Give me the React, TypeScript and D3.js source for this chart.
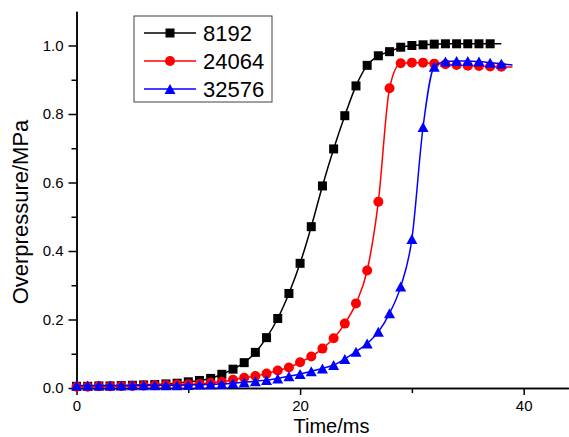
import { useEffect, useRef } from 'react';
import * as d3 from 'd3';

// time axis, one sample per ms
const seriesNames = ['8192', '24064', '32576'];
const seriesColors = ['#000000', '#ff0000', '#0000ff'];

const p8192 = [
  0.005, 0.005, 0.006, 0.006, 0.007, 0.008, 0.009, 0.01, 0.012, 0.014,
  0.018, 0.022, 0.028, 0.04, 0.055, 0.074, 0.104, 0.147, 0.203, 0.276,
  0.364, 0.471, 0.59, 0.698, 0.795, 0.882, 0.942, 0.97, 0.982, 0.995,
  1.0, 1.002, 1.004, 1.005, 1.005, 1.005, 1.005, 1.005, 1.005,
];
const p24064 = [
  0.004, 0.004, 0.005, 0.005, 0.006, 0.006, 0.007, 0.008, 0.009, 0.01,
  0.011, 0.012, 0.015, 0.018, 0.024, 0.03, 0.035, 0.042, 0.051, 0.06,
  0.075, 0.092, 0.115, 0.145, 0.188, 0.247, 0.343, 0.544, 0.875, 0.948,
  0.95, 0.95, 0.947, 0.945, 0.943, 0.941, 0.94, 0.939, 0.938, 0.937,
];
const p32576 = [
  0.007, 0.007, 0.007, 0.007, 0.007, 0.008, 0.008, 0.008, 0.008, 0.008,
  0.009, 0.01, 0.011, 0.012, 0.014, 0.017, 0.02, 0.023, 0.028, 0.034,
  0.041, 0.049, 0.057, 0.067, 0.085, 0.106, 0.13, 0.164, 0.218, 0.296,
  0.435, 0.762, 0.938, 0.953, 0.955, 0.955, 0.953, 0.95, 0.947, 0.943,
];

const xMajor = [0, 20, 40];
const xMinor = [10, 30];
const yMajor = [0, 0.2, 0.4, 0.6, 0.8, 1.0];
const yMinor = [0.1, 0.3, 0.5, 0.7, 0.9];

const FONT = 'Liberation Sans, Arial, sans-serif';

export default function App() {
  const svgRef = useRef<SVGSVGElement>(null);

  useEffect(() => {
    if (!svgRef.current) return;
    const svg = d3.select(svgRef.current);
    svg.selectAll('*').remove();

    const x = d3.scaleLinear().domain([0, 44]).range([76.5, 568.4]);
    const y = d3.scaleLinear().domain([0, 1.1]).range([388, 11.25]);

    // Axes
    const xAxis = svg
      .append('g')
      .attr('transform', 'translate(0,388)')
      .call(
        d3.axisBottom(x).tickValues(xMajor).tickSize(7).tickSizeOuter(0).tickPadding(5).tickFormat(d3.format('d'))
      );
    svg
      .append('g')
      .attr('transform', 'translate(0,388)')
      .call(d3.axisBottom(x).tickValues(xMinor).tickSize(5).tickSizeOuter(0).tickFormat(() => ''));

    const yAxis = svg
      .append('g')
      .attr('transform', 'translate(76.5,0)')
      .call(
        d3.axisLeft(y).tickValues(yMajor).tickSize(8).tickSizeOuter(0).tickPadding(5).tickFormat(d3.format('.1f'))
      );
    svg
      .append('g')
      .attr('transform', 'translate(76.5,0)')
      .call(d3.axisLeft(y).tickValues(yMinor).tickSize(5).tickSizeOuter(0).tickFormat(() => ''));

    svg.selectAll('.domain, .tick line').attr('stroke', '#000').attr('stroke-width', 1.5);
    [xAxis, yAxis].forEach((a) =>
      a.selectAll('text').attr('font-size', '15px').attr('font-family', FONT).attr('fill', '#000')
    );

    // Axis titles
    svg
      .append('text')
      .attr('x', 331.5)
      .attr('y', 433)
      .attr('text-anchor', 'middle')
      .attr('font-family', FONT)
      .attr('font-size', '20px')
      .text('Time/ms');

    svg
      .append('text')
      .attr('transform', 'translate(28,212) rotate(-90)')
      .attr('text-anchor', 'middle')
      .attr('font-family', FONT)
      .attr('font-size', '22px')
      .text('Overpressure/MPa');

    const marker = (g: any, kind: number, color: string, cx: number, cy: number) => {
      if (kind === 0) {
        g.append('rect')
          .attr('x', cx - 4.5)
          .attr('y', cy - 4.5)
          .attr('width', 9)
          .attr('height', 9)
          .attr('fill', color);
      } else if (kind === 1) {
        g.append('circle').attr('cx', cx).attr('cy', cy).attr('r', 5).attr('fill', color);
      } else {
        g.append('path')
          .attr('d', `M${cx},${cy - 5}L${cx + 5.5},${cy + 5}L${cx - 5.5},${cy + 5}Z`)
          .attr('fill', color);
      }
    };

    // Series
    const allSeries = [p8192, p24064, p32576];
    const line = d3
      .line<number>()
      .x((d, i) => x(i))
      .y((d) => y(d))
      .curve(d3.curveMonotoneX);

    allSeries.forEach((vals, k) => {
      const g = svg.append('g');
      g.append('path')
        .attr('d', line(vals))
        .attr('fill', 'none')
        .attr('stroke', seriesColors[k])
        .attr('stroke-width', 1.5);
      // the last sample only carries the line, no symbol
      vals.slice(0, -1).forEach((v, i) => marker(g, k, seriesColors[k], x(i), y(v)));
    });

    // Legend
    const lg = svg.append('g');
    lg.append('rect')
      .attr('x', 134)
      .attr('y', 16)
      .attr('width', 138)
      .attr('height', 86)
      .attr('fill', '#fff')
      .attr('stroke', '#404040')
      .attr('stroke-width', 1);
    seriesNames.forEach((name, k) => {
      const cy = 33 + k * 28;
      lg.append('line')
        .attr('x1', 144)
        .attr('x2', 196)
        .attr('y1', cy)
        .attr('y2', cy)
        .attr('stroke', seriesColors[k])
        .attr('stroke-width', 1.5);
      marker(lg, k, seriesColors[k], 170, cy);
      lg.append('text')
        .attr('x', 203)
        .attr('y', cy)
        .attr('dy', '0.36em')
        .attr('font-family', FONT)
        .attr('font-size', '22px')
        .text(name);
    });
  }, []);

  return (
    <svg
      ref={svgRef}
      width={569}
      height={437}
      style={{ position: 'absolute', left: 0, top: 0, background: '#fff' }}
    />
  );
}
